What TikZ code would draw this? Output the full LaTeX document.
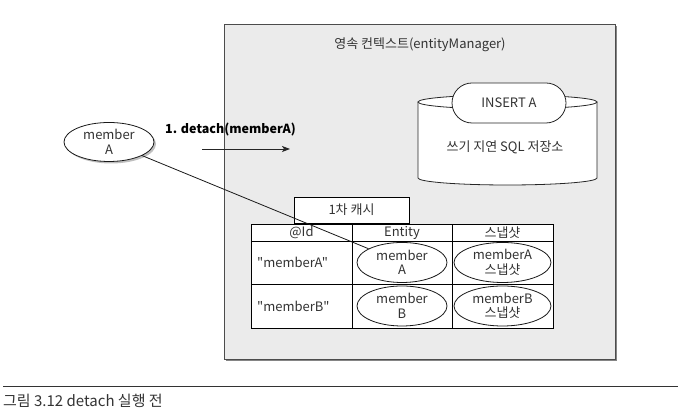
\documentclass[tikz,border=0pt]{standalone}
\usepackage{fontspec}
\setmainfont{Noto Sans CJK KR}[Ligatures=TeXOff]
\usetikzlibrary{shapes.geometric,shadows,arrows.meta}
\tikzset{
	txt/.style={inner sep=0pt, text=black!80, font=\fontsize{13}{14}\selectfont},
	member/.style={ellipse, draw=black!90, fill=white, line width=0.8pt, inner sep=0pt, align=center, text=black!80, font=\fontsize{13}{14.5}\selectfont},
	cell/.style={draw=black, fill=white, line width=0.8pt, inner sep=0pt, text=black!80, font=\fontsize{13}{14}\selectfont}
}

\begin{document}
\begin{tikzpicture}[x=1pt, y=1pt]
			%%%%% START %%%%%
			\useasboundingbox (0, 0) rectangle (680, 419);
			
			% persistence context
			\draw[fill=black!8, draw=black!70, line width=0.8pt, drop shadow={shadow xshift=2pt, shadow yshift=-2pt, fill=black!60, opacity=0.8}] (224, 395) rectangle (615, 60);
			\node[txt] (ctxTitle) at (420, 374) {영속 컨텍스트(entityManager)};
			
			% write-behind store
			\draw[fill=white, draw=black!85, line width=0.8pt] (418, 317) -- (418, 241) arc[start angle=180, end angle=360, x radius=89.5, y radius=7] -- (597, 317);
			\draw[fill=white, draw=black!85, line width=0.8pt] (507.5, 317) ellipse [x radius=89.5, y radius=7];
			\node[draw=black!85, fill=white, line width=0.8pt, rounded corners=20pt, minimum width=114pt, minimum height=40pt, txt] (insertA) at (509, 316) {INSERT A};
			\node[txt] (sqlStore) at (505, 272) {쓰기 지연 SQL 저장소};
			
			% detached member
			\node[member, minimum width=90pt, minimum height=39pt, drop shadow={shadow xshift=2pt, shadow yshift=-2pt, fill=black!50, opacity=0.5}] (mA) at (109, 277) {member\\A};
			
			\node[inner sep=0pt, font=\bfseries\fontsize{12.5}{14}\selectfont] (detachTxt) at (230.5, 289) {1. detach(memberA)};
			\coordinate (detachS) at (202, 270);
			\coordinate (detachE) at (290, 270);
			\draw[line width=0.8pt, black!85, -{Stealth[length=8pt, width=6pt, inset=2pt]}] (detachS) -- (detachE);
			
			% first level cache
			\node[cell, minimum width=115pt, minimum height=26pt] (cacheTitle) at (351.5, 209) {1차 캐시};
			
			\node[cell, minimum width=101pt, minimum height=17pt] (hId) at (301.5, 186.5) {@Id};
			\node[cell, minimum width=100pt, minimum height=17pt] (hEntity) at (402, 186.5) {Entity};
			\node[cell, minimum width=101pt, minimum height=17pt] (hSnap) at (502.5, 186.5) {스냅샷};
			
			\node[cell, minimum width=101pt, minimum height=43pt] (r1Id) at (301.5, 156.5) {};
			\node[cell, minimum width=100pt, minimum height=43pt] (r1Entity) at (402, 156.5) {};
			\node[cell, minimum width=101pt, minimum height=43pt] (r1Snap) at (502.5, 156.5) {};
			
			\node[cell, minimum width=101pt, minimum height=44pt] (r2Id) at (301.5, 113) {};
			\node[cell, minimum width=100pt, minimum height=44pt] (r2Entity) at (402, 113) {};
			\node[cell, minimum width=101pt, minimum height=44pt] (r2Snap) at (502.5, 113) {};
			
			\node[txt, anchor=west] (keyA) at (257, 156.5) {"memberA"};
			\node[txt, anchor=west] (keyB) at (257, 113) {"memberB"};
			
			\node[member, minimum width=90pt, minimum height=40pt] (cA) at (402, 156.5) {member\\A};
			\node[member, minimum width=90pt, minimum height=40pt] (cB) at (402, 113) {member\\B};
			\node[member, minimum width=97pt, minimum height=40pt] (sA) at (502.5, 156.5) {memberA\\스냅샷};
			\node[member, minimum width=97pt, minimum height=40pt] (sB) at (502.5, 113) {memberB\\스냅샷};
			
			% reference still pointing into the cache
			\draw[line width=0.8pt, black!90] (mA) -- (cA);
			
			% caption
			\coordinate (capL) at (3, 33);
			\coordinate (capR) at (678, 33);
			\draw[line width=0.8pt, black!80] (capL) -- (capR);
			\node[txt, anchor=west, font=\fontsize{15}{17}\selectfont] (caption) at (3, 18) {그림 3.12 detach 실행 전};
			
			%%%%% END %%%%%
\end{tikzpicture}
\end{document}
